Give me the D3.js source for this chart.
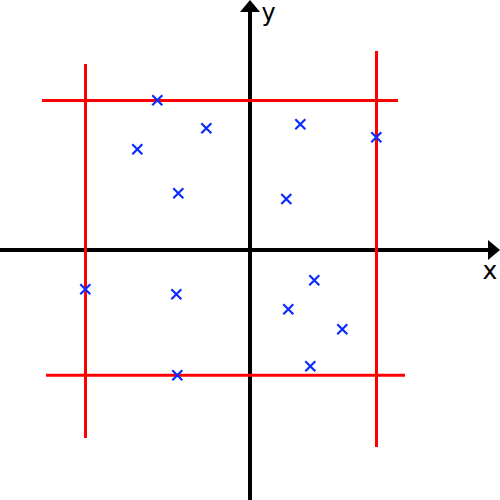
<!DOCTYPE html>
<html>
<head>
<meta charset="utf-8">
<script src="https://cdn.jsdelivr.net/npm/d3@7"></script>
<style>
  html, body { margin: 0; padding: 0; background: #fff; }
  svg { display: block; }
</style>
</head>
<body>
<svg id="chart" width="500" height="500"></svg>
<script>
// Data (1 unit = 10 px, origin at the axes crossing)
const pointsX = [-9.27, -4.37, -11.27, -7.17, 5.03, 12.63, 3.63, -16.47, -7.37, -7.27, 6.43, 3.83, 9.23, 6.03];
const pointsY = [14.97, 12.17, 10.07, 5.67, 12.57, 11.27, 5.1, -3.93, -4.43, -12.53, -3.03, -5.93, -7.93, -11.63];

// red vertical lines: x position, y start, y end
const vLineX = [-16.45, 12.65];
const vLineY1 = [18.6, 19.9];
const vLineY2 = [-18.8, -19.7];
// red horizontal lines: y position, x start, x end
const hLineY = [14.95, -12.53];
const hLineX1 = [-20.8, -20.4];
const hLineX2 = [14.8, 15.5];

const axisLabels = ["x", "y"];

const svg = d3.select("#chart");
const x = d3.scaleLinear().domain([-25, 25]).range([0, 500]);
const y = d3.scaleLinear().domain([-25, 25]).range([500, 0]);

// Axes
svg.append("line")
  .attr("x1", x(-25)).attr("x2", x(24)).attr("y1", y(0)).attr("y2", y(0))
  .attr("stroke", "#000").attr("stroke-width", 4);
svg.append("line")
  .attr("x1", x(0)).attr("x2", x(0)).attr("y1", y(-25)).attr("y2", y(24))
  .attr("stroke", "#000").attr("stroke-width", 4);
// arrowheads
svg.append("path")
  .attr("d", `M${x(25)},${y(0)} L${x(23.8)},${y(1)} L${x(23.8)},${y(-1)} Z`)
  .attr("fill", "#000");
svg.append("path")
  .attr("d", `M${x(0)},${y(25)} L${x(-1)},${y(23.8)} L${x(1)},${y(23.8)} Z`)
  .attr("fill", "#000");

svg.append("text")
  .attr("x", x(24)).attr("y", y(-2.9))
  .attr("text-anchor", "middle")
  .attr("font-family", "DejaVu Sans, sans-serif")
  .attr("font-size", 25)
  .text(axisLabels[0]);
svg.append("text")
  .attr("x", x(1.85)).attr("y", y(22.9))
  .attr("text-anchor", "middle")
  .attr("font-family", "DejaVu Sans, sans-serif")
  .attr("font-size", 24)
  .text(axisLabels[1]);

// Red lines
vLineX.forEach((v, i) => {
  svg.append("line")
    .attr("x1", x(v)).attr("x2", x(v))
    .attr("y1", y(vLineY1[i])).attr("y2", y(vLineY2[i]))
    .attr("stroke", "#ff0000").attr("stroke-width", 3);
});
hLineY.forEach((v, i) => {
  svg.append("line")
    .attr("x1", x(hLineX1[i])).attr("x2", x(hLineX2[i]))
    .attr("y1", y(v)).attr("y2", y(v))
    .attr("stroke", "#ff0000").attr("stroke-width", 3);
});

// Blue x markers
const s = 5;
const pts = pointsX.map((px, i) => [px, pointsY[i]]);
svg.append("g").selectAll("path").data(pts).join("path")
  .attr("d", d => {
    const cx = x(d[0]), cy = y(d[1]);
    return `M${cx - s},${cy - s} L${cx + s},${cy + s} M${cx - s},${cy + s} L${cx + s},${cy - s}`;
  })
  .attr("stroke", "#0a2bff").attr("stroke-width", 2.2).attr("fill", "none");
</script>
</body>
</html>
